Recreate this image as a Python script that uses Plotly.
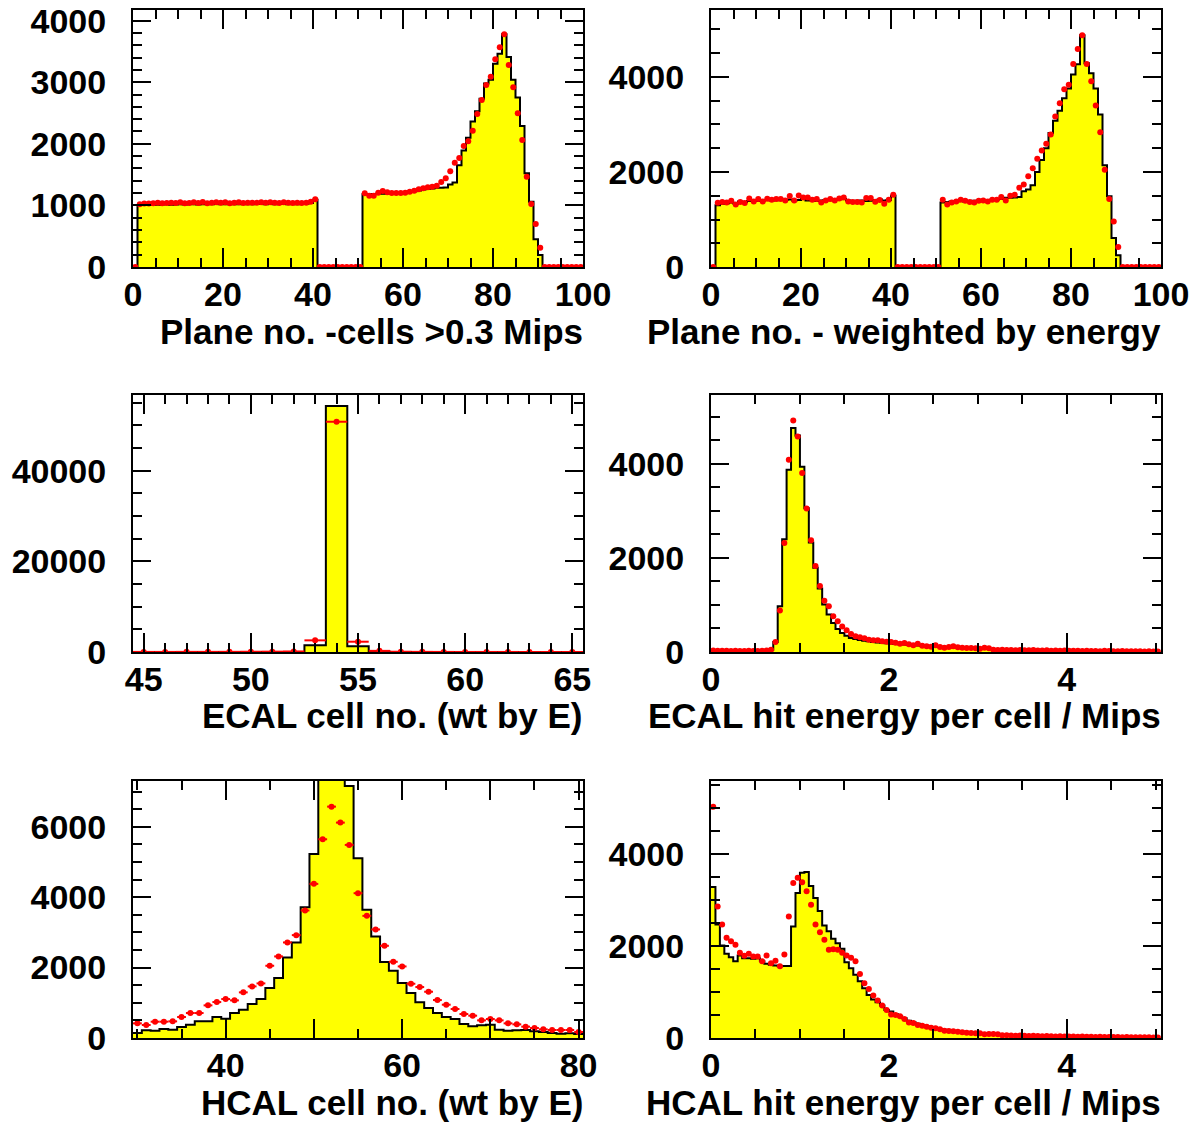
import numpy as np
import plotly.graph_objects as go

FONT = "Liberation Sans, Arial, Helvetica, sans-serif"
YELLOW = "#ffff00"
RED = "#ff0000"

# ---------------- Panel 1: Plane no. - cells > 0.3 Mips (bins of 1, 0..100) ----------------
mc1_ecal = [1005, 1010, 1012, 1015, 1010, 1015, 1018, 1012, 1015, 1020, 1015, 1018, 1020, 1015,
            1020, 1018, 1020, 1022, 1018, 1020, 1022, 1020, 1018, 1022, 1020, 1020, 1022, 1025,
            1020, 1022, 1020, 1025, 1022, 1020, 1025, 1020, 1022, 1025, 1040, 1090]
mc1_hcal = [1180, 1185, 1185, 1190, 1190, 1195, 1195, 1200, 1200, 1210, 1225, 1230, 1240, 1260,
            1270, 1275, 1285, 1285, 1290, 1340, 1370, 1650, 1890, 2100, 2360, 2530, 2730, 2980,
            3040, 3300, 3460, 3780, 3410, 3040, 2750, 2290, 1520, 1060, 450, 195]
data1_ecal = [1020, 1030, 1030, 1035, 1045, 1035, 1040, 1045, 1040, 1050, 1035, 1040, 1050, 1040,
              1055, 1035, 1045, 1050, 1045, 1050, 1035, 1045, 1050, 1040, 1045, 1045, 1045, 1050,
              1045, 1050, 1045, 1040, 1050, 1045, 1040, 1045, 1040, 1045, 1060, 1100]
data1_hcal = [1196, 1158, 1158, 1207, 1234, 1212, 1201, 1201, 1201, 1207, 1223, 1239, 1261, 1277,
              1293, 1304, 1320, 1380, 1439, 1553, 1694, 1769, 1964, 2040, 2213, 2484, 2711, 2955,
              3090, 3371, 3566, 3777, 3279, 2917, 2495, 2062, 1466, 1023, 698, 314]
mc1 = [0] + mc1_ecal + [0] * 10 + mc1_hcal + [0] * 9
data1 = [0] + data1_ecal + [0] * 10 + data1_hcal + [0] * 9

# ---------------- Panel 2: Plane no. - weighted by energy ----------------
mc2_ecal = [1300, 1330, 1340, 1360, 1330, 1380, 1370, 1390, 1400, 1390, 1400, 1410, 1400, 1405,
            1410, 1410, 1420, 1400, 1410, 1430, 1400, 1420, 1390, 1400, 1410, 1405, 1410, 1425,
            1430, 1400, 1390, 1395, 1400, 1390, 1395, 1410, 1420, 1400, 1410, 1500]
mc2_hcal = [1359, 1366, 1380, 1380, 1394, 1380, 1380, 1394, 1401, 1401, 1401, 1415, 1422, 1429,
            1457, 1457, 1464, 1471, 1597, 1632, 1720, 2000, 2250, 2500, 2820, 3080, 3290, 3550,
            3760, 4050, 4270, 4880, 4290, 4080, 3760, 3210, 2140, 1490, 610, 245]
data2_ecal = [1352, 1366, 1359, 1394, 1317, 1366, 1345, 1443, 1380, 1429, 1380, 1436, 1415, 1429,
              1429, 1401, 1492, 1401, 1506, 1464, 1464, 1415, 1429, 1359, 1401, 1429, 1401, 1443,
              1464, 1380, 1366, 1366, 1359, 1450, 1450, 1373, 1408, 1331, 1415, 1520]
data2_hcal = [1415, 1317, 1359, 1380, 1415, 1394, 1366, 1359, 1394, 1401, 1380, 1415, 1415, 1471,
              1401, 1499, 1520, 1667, 1737, 1912, 2081, 2277, 2452, 2592, 2788, 3166, 3447, 3741,
              3839, 4273, 4588, 4876, 4273, 3909, 3398, 2837, 2046, 1429, 960, 420]
mc2 = [0] + mc2_ecal + [0] * 10 + mc2_hcal + [0] * 9
data2 = [0] + data2_ecal + [0] * 10 + data2_hcal + [0] * 9

# ---------------- Panel 3: ECAL cell no. (wt by E), cells 45..65 ----------------
mc3 = [0, 0, 0, 0, 0, 0, 0, 10, 1470, 54300, 1250, 60, 10, 0, 0, 0, 0, 0, 0, 0, 0]
data3 = [20, 20, 30, 30, 40, 60, 80, 120, 2570, 50800, 2270, 250, 60, 30, 20, 10, 10, 10, 5, 5, 5]

# ---------------- Panel 4: ECAL hit energy per cell / Mips (bins of 0.05) ----------------
mc4 = [18, 20, 18, 20, 22, 20, 18, 20, 22, 20, 22, 25, 28,
       50, 213, 974, 2397, 3876, 4765, 4602, 3940, 3058, 2326, 1792, 1351, 1010, 797, 619, 491,
       405, 348, 299,
       275, 255, 240, 226, 214, 204, 196, 188, 180, 172, 165, 158, 151, 144, 138, 132, 126, 120,
       115, 110, 105, 100, 96, 92, 88, 84, 80, 76, 72, 68, 64, 60,
       56, 53, 50, 48, 46, 44, 42, 40, 38, 37, 36, 35, 34, 33, 32, 31, 30, 29, 28, 27, 26, 25,
       24, 23, 22, 21, 20, 19, 18, 17, 16, 15, 14, 14, 13, 12, 12]
data4 = [30, 28, 25, 26, 22, 25, 20, 23, 25, 20, 22, 26, 30,
         50, 213, 882, 2318, 4090, 4922, 4580, 3805, 3051, 2375, 1828, 1401, 1088, 975, 761, 654,
         541, 462, 384, 334, 313, 292, 263, 249, 249, 228, 220, 213, 199, 178, 192, 164, 142, 178,
         135, 121, 114, 142, 107, 92, 107, 121, 100, 92, 85, 85, 78, 71, 92, 78, 50,
         45, 48, 40, 42, 38, 45, 35, 36, 40, 32, 30, 35, 28, 30, 26, 32, 25, 28, 24, 22, 26, 20,
         22, 18, 24, 20, 17, 18, 20, 15, 16, 14, 18, 13, 14, 12, 12]

# ---------------- Panel 5: HCAL cell no. (wt by E), cells 30..80 ----------------
mc5 = [142, 217, 208, 255, 236, 312, 378, 473, 473, 596, 548, 709, 804, 965, 1106, 1418, 1702,
       2288, 2714, 3716, 5229, 8200, 10500, 9000, 7158, 5106, 3641, 2884, 2156, 1910, 1560, 1277,
       1012, 851, 709, 596, 539, 397, 331, 359, 378, 236, 208, 217, 227, 189, 170, 142, 123, 132,
       113]
data5 = [416, 369, 463, 463, 473, 596, 709, 709, 927, 1021, 1106, 1069, 1296, 1466, 1551, 2052,
         2317, 2714, 2922, 3622, 4378, 5645, 6572, 6118, 5485, 4113, 3470, 3083, 2619, 2165, 2033,
         1541, 1447, 1314, 1078, 946, 823, 681, 634, 501, 539, 501, 416, 388, 322, 284, 246, 227,
         227, 227, 170]

# ---------------- Panel 6: HCAL hit energy per cell / Mips (bins of 0.05) ----------------
mc6 = [3287, 2473, 2015, 1833, 1760, 1673, 1796, 1738, 1738, 1724, 1738, 1673, 1615, 1593, 1578,
       1564, 1570, 1570,
       2429, 3156, 3600, 3615, 3309, 3047, 2764, 2451, 2327, 2160, 2065, 1942, 1651, 1520, 1375,
       1236, 1084, 938, 836, 778, 705, 611, 575, 524, 473, 429, 378, 342, 313, 284, 255, 233, 211,
       196, 182, 167, 153, 145, 138, 131, 124, 116, 102, 95, 87, 73,
       68, 64, 60, 57, 54, 51, 48, 46, 44, 42, 40, 38, 36, 35, 33, 32, 30, 29, 28, 27, 26, 25, 24,
       23, 22, 21, 20, 19, 18, 17, 16, 15, 14, 13, 13, 12, 11]
data6 = [5033, 2865, 2473, 2182, 2109, 2029, 1855, 1789, 1833, 1775, 1775, 1673, 1796, 1629, 1680,
         1564, 1818, 2647,
         3375, 3491, 3389, 3193, 2902, 2473, 2305, 2138, 1920, 1935, 1920, 1855, 1796, 1745, 1673,
         1396, 1193, 1069, 924, 815, 705, 611, 509, 502, 473, 415, 335, 327, 284, 269, 247, 225,
         211, 189, 160, 153, 145, 138, 124, 116, 109, 102, 102, 80, 87, 87,
         80, 58, 62, 55, 50, 56, 48, 45, 50, 42, 40, 44, 38, 35, 40, 33, 30, 34, 28, 30, 26, 27,
         24, 25, 22, 24, 20, 21, 18, 20, 17, 16, 18, 14, 15, 13, 12]

titles = ["Plane no. -cells >0.3 Mips", "Plane no. - weighted by energy",
          "ECAL cell no. (wt by E)", "ECAL hit energy per cell / Mips",
          "HCAL cell no. (wt by E)", "HCAL hit energy per cell / Mips"]

W, H = 1196, 1124
col_px = [(133, 583), (711, 1161)]
row_px = [(10, 267), (395, 652), (781, 1038)]

panels = [
    dict(lo=0.0, w=1.0, mc=mc1, data=data1, xr=[0, 100], yr=[0, 4172],
         xt=dict(dtick=20, tick0=0), xm=dict(dtick=5, tick0=0), ydt=1000, ym=200),
    dict(lo=0.0, w=1.0, mc=mc2, data=data2, xr=[0, 100], yr=[0, 5410],
         xt=dict(dtick=20, tick0=0), xm=dict(dtick=5, tick0=0), ydt=2000, ym=500),
    dict(lo=44.5, w=1.0, mc=mc3, data=data3, xr=[44.5, 65.5], yr=[0, 56700],
         xt=dict(dtick=5, tick0=45), xm=dict(dtick=1, tick0=45), ydt=20000, ym=5000),
    dict(lo=0.0, w=0.05, mc=mc4, data=data4, xr=[0, 5.06], yr=[0, 5465],
         xt=dict(dtick=2, tick0=0), xm=dict(dtick=0.5, tick0=0), ydt=2000, ym=500),
    dict(lo=29.5, w=1.0, mc=mc5, data=data5, xr=[29.5, 80.5], yr=[0, 7300],
         xt=dict(tickmode="array", tickvals=[40, 50, 60, 70, 80], ticktext=["40", "", "60", "", "80"]),
         xm=dict(dtick=5, tick0=30), ydt=2000, ym=500),
    dict(lo=0.0, w=0.05, mc=mc6, data=data6, xr=[0, 5.06], yr=[0, 5596],
         xt=dict(dtick=2, tick0=0), xm=dict(dtick=0.5, tick0=0), ydt=2000, ym=500),
]

tickfont = dict(family=FONT, size=34, color="black", weight="bold")
fig = go.Figure()
annotations = []

for i, p in enumerate(panels, start=1):
    n = len(p["mc"])
    edges = p["lo"] + p["w"] * np.arange(n + 1)
    centers = edges[:-1] + p["w"] / 2.0
    xs = "x" if i == 1 else f"x{i}"
    ys = "y" if i == 1 else f"y{i}"
    step_y = list(p["mc"]) + [p["mc"][-1]]
    fig.add_trace(go.Scatter(x=edges, y=step_y, mode="lines",
                             line=dict(shape="hv", color="black", width=2),
                             fill="tozeroy", fillcolor=YELLOW,
                             xaxis=xs, yaxis=ys, showlegend=False, hoverinfo="skip"))
    fig.add_trace(go.Scatter(x=centers, y=p["data"], mode="markers",
                             marker=dict(color=RED, size=6, line=dict(width=0)),
                             error_x=dict(type="data", array=[p["w"] / 2.0] * n,
                                          color=RED, thickness=2, width=0),
                             xaxis=xs, yaxis=ys, showlegend=False, hoverinfo="skip"))

    r, c = (i - 1) // 2, (i - 1) % 2
    x0, x1 = col_px[c]
    y0, y1 = row_px[r]
    xdom = [x0 / W, x1 / W]
    ydom = [1 - y1 / H, 1 - y0 / H]

    xax = dict(domain=xdom, anchor=ys, range=p["xr"], showgrid=False, zeroline=False,
               automargin=False,
               showline=True, linewidth=2, linecolor="black", mirror="ticks",
               ticks="inside", ticklen=19, tickwidth=2, tickcolor="black",
               tickfont=tickfont, ticklabelstandoff=-4,
               minor=dict(ticks="inside", ticklen=9, tickwidth=2, tickcolor="black",
                          showgrid=False, tickmode="linear", **p["xm"]))
    if "tickmode" in p["xt"]:
        xax.update(p["xt"])
    else:
        xax.update(tickmode="linear", **p["xt"])
    yax = dict(domain=ydom, anchor=xs, range=p["yr"], showgrid=False, zeroline=False,
               automargin=False,
               showline=True, linewidth=2, linecolor="black", mirror="ticks",
               ticks="inside", ticklen=18, tickwidth=2, tickcolor="black",
               tickfont=tickfont, ticklabelstandoff=18, tickformat="d",
               tickmode="linear", tick0=0, dtick=p["ydt"],
               minor=dict(ticks="inside", ticklen=9, tickwidth=2, tickcolor="black",
                          showgrid=False, tickmode="linear", tick0=0, dtick=p["ym"]))
    fig.layout["xaxis" if i == 1 else f"xaxis{i}"] = xax
    fig.layout["yaxis" if i == 1 else f"yaxis{i}"] = yax

    annotations.append(dict(text=titles[i - 1], xref="paper", yref="paper",
                            x=(x1 + 2) / W, y=1 - (y1 + 64) / H,
                            xanchor="right", yanchor="middle", showarrow=False,
                            font=dict(family=FONT, size=35, color="black", weight="bold")))

fig.update_layout(width=W, height=H,
                  margin=dict(l=0, r=0, t=0, b=0, pad=0, autoexpand=False),
                  paper_bgcolor="white", plot_bgcolor="white",
                  annotations=annotations, showlegend=False)

fig.write_html("out.html", config={"displayModeBar": False},
               post_script="document.body.style.margin='0';document.body.style.padding='0';"
                           "document.body.style.overflow='hidden';")
